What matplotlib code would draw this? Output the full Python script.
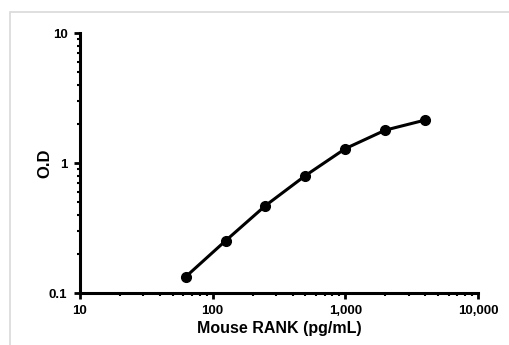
import matplotlib
matplotlib.use("Agg")
import matplotlib.pyplot as plt
from matplotlib.ticker import FixedLocator, FixedFormatter, LogLocator, NullFormatter
from matplotlib.patches import Rectangle

conc = [62.5, 125, 250, 500, 1000, 2000, 4000]
od = [0.133, 0.252, 0.47, 0.80, 1.29, 1.79, 2.14]
xticks = [10, 100, 1000, 10000]
xticklabels = ["10", "100", "1,000", "10,000"]
yticks = [0.1, 1, 10]
yticklabels = ["0.1", "1", "10"]

plt.rcParams['font.family'] = ['Liberation Sans', 'DejaVu Sans']
plt.rcParams['font.weight'] = 'bold'

fig = plt.figure(figsize=(5.1, 3.45), dpi=100)
fig.patches.append(Rectangle((10/510, -0.1), 1.2, 1 - 12/345 + 0.1, transform=fig.transFigure,
                             fill=False, edgecolor='#d9d9d9', linewidth=1.2))
ax = fig.add_axes([80/510, 1 - 293/345, (478-80)/510, (293-33)/345])
ax.set_xscale('log')
ax.set_yscale('log')
ax.plot(conc, od, color='black', linewidth=2.2, marker='o', markersize=7, zorder=3)
ax.set_xlim(10, 10000)
ax.set_ylim(0.1, 10)
for s in ['top', 'right']:
    ax.spines[s].set_visible(False)
for s in ['left', 'bottom']:
    ax.spines[s].set_linewidth(2.2)
ax.xaxis.set_major_locator(FixedLocator(xticks))
ax.xaxis.set_major_formatter(FixedFormatter(xticklabels))
ax.yaxis.set_major_locator(FixedLocator(yticks))
ax.yaxis.set_major_formatter(FixedFormatter(yticklabels))
ax.xaxis.set_minor_locator(LogLocator(base=10, subs=range(2, 10)))
ax.yaxis.set_minor_locator(LogLocator(base=10, subs=range(2, 10)))
ax.xaxis.set_minor_formatter(NullFormatter())
ax.yaxis.set_minor_formatter(NullFormatter())
ax.tick_params(which='major', length=4, width=2, labelsize=9.5, direction='out', pad=5)
ax.tick_params(which='minor', length=2.5, width=1.5, direction='out')
for lab in ax.get_xticklabels() + ax.get_yticklabels():
    lab.set_fontweight('bold')
ax.set_xlabel('Mouse RANK (pg/mL)', fontsize=11.5, fontweight='bold')
ax.set_ylabel('O.D', fontsize=12, fontweight='bold')
ax.yaxis.set_label_coords(-0.088, 0.5)
ax.xaxis.set_label_coords(0.5, -0.135)
ax.xaxis.label.set_va('center')
ax.yaxis.label.set_va('center')
fig.savefig('out.png', dpi=100)
